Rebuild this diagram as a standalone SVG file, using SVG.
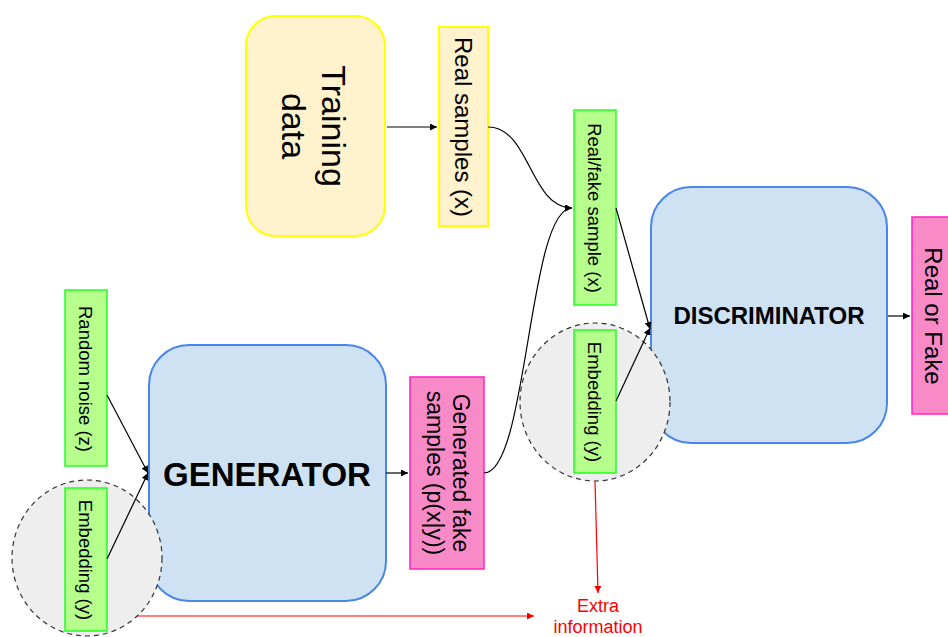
<svg xmlns="http://www.w3.org/2000/svg" width="948" height="637" viewBox="0 0 948 637">
<defs>
<marker id="ah" viewBox="0 0 10 10" refX="10" refY="5" markerWidth="7" markerHeight="7" orient="auto" markerUnits="userSpaceOnUse"><path d="M0,0 L10,5 L0,10 z" fill="#000"/></marker>
<marker id="ahr" viewBox="0 0 10 10" refX="10" refY="5" markerWidth="7" markerHeight="7" orient="auto" markerUnits="userSpaceOnUse"><path d="M0,0 L10,5 L0,10 z" fill="#ff0000"/></marker>
<style>
text{font-family:"Liberation Sans",Arial,sans-serif;fill:#000}
.yel{fill:#fff2cc;stroke:#ffff00;stroke-width:2}
.grn{fill:#b7ff8c;stroke:#22ff22;stroke-width:1.5}
.pnk{fill:#f98ac8;stroke:#ff22c4;stroke-width:1.5}
.blu{fill:#cfe2f3;stroke:#4a86e8;stroke-width:2}
.emb{fill:#eeeeee;stroke:#333;stroke-width:1.2;stroke-dasharray:5,4}
.bold{font-weight:bold}
.c{fill:none;stroke:#000;stroke-width:1.2}
.r{fill:none;stroke:#ff0000;stroke-width:1.2}
</style>
</defs>
<rect width="948" height="637" fill="#fff"/>
<g id="training-data"><rect class="yel" x="246" y="16" width="139" height="220" rx="30"/>
<text font-size="34" text-anchor="middle" transform="translate(322,126) rotate(90)"><tspan x="0" y="0">Training</tspan><tspan x="0" y="40">data</tspan></text></g>
<g id="real-samples"><rect class="yel" x="439" y="27" width="49" height="199"/>
<text font-size="24" text-anchor="middle" transform="translate(455,127) rotate(90)">Real samples (x)</text></g>
<g id="discriminator"><rect class="blu" x="651" y="187" width="236" height="256" rx="40"/>
<text class="bold" font-size="24" text-anchor="middle" x="769" y="324">DISCRIMINATOR</text></g>
<g id="generator"><rect class="blu" x="149" y="345" width="237" height="256" rx="40"/>
<text class="bold" font-size="33" text-anchor="middle" x="267" y="486">GENERATOR</text></g>
<g id="real-fake-sample"><rect class="grn" x="574" y="110" width="42" height="195"/>
<text font-size="18.5" text-anchor="middle" transform="translate(588,208) rotate(90)">Real/fake sample (x)</text></g>
<g id="embedding-d"><ellipse class="emb" cx="595" cy="402" rx="75" ry="79"/>
<rect class="grn" x="574" y="330" width="42" height="143"/>
<text font-size="18.5" text-anchor="middle" transform="translate(588,402) rotate(90)">Embedding (y)</text></g>
<g id="real-or-fake"><rect class="pnk" x="912" y="217" width="40" height="197"/>
<text font-size="24" text-anchor="middle" transform="translate(925,316) rotate(90)">Real or Fake</text></g>
<g id="random-noise"><rect class="grn" x="65" y="290" width="42" height="176"/>
<text font-size="18.5" text-anchor="middle" transform="translate(79,379) rotate(90)">Random noise (z)</text></g>
<g id="embedding-g"><ellipse class="emb" cx="87" cy="558" rx="75" ry="78"/>
<rect class="grn" x="65" y="488" width="42" height="143"/>
<text font-size="18.5" text-anchor="middle" transform="translate(79,560) rotate(90)">Embedding (y)</text></g>
<g id="generated-fake"><rect class="pnk" x="410" y="377" width="74" height="192"/>
<text font-size="23" text-anchor="middle" transform="translate(453,473) rotate(90)"><tspan x="0" y="0">Generated fake</tspan><tspan x="0" y="26">samples (p(x|y))</tspan></text></g>
<g id="extra-information"><text font-size="18" text-anchor="middle" style="fill:#ff0000"><tspan x="598" y="612">Extra</tspan><tspan x="598" y="633">information</tspan></text></g>
<g id="connectors">
<path class="c" d="M387,127 L437,127" marker-end="url(#ah)"/>
<path class="c" d="M488,127 C530,127 530,208 572,208" marker-end="url(#ah)"/>
<path class="c" d="M484,473 C528,473 528,208 572,208" marker-end="url(#ah)"/>
<path class="c" d="M616,208 L650,329" marker-end="url(#ah)"/>
<path class="c" d="M616,401 L650,328" marker-end="url(#ah)"/>
<path class="c" d="M888,316 L910,316" marker-end="url(#ah)"/>
<path class="c" d="M386,473 L408,473" marker-end="url(#ah)"/>
<path class="c" d="M107,395 L148,473" marker-end="url(#ah)"/>
<path class="c" d="M107,559 L148,473" marker-end="url(#ah)"/>
<path class="r" d="M137,616 L534,616" marker-end="url(#ahr)"/>
<path class="r" d="M595,481 L598,593" marker-end="url(#ahr)"/>
</g>
</svg>
